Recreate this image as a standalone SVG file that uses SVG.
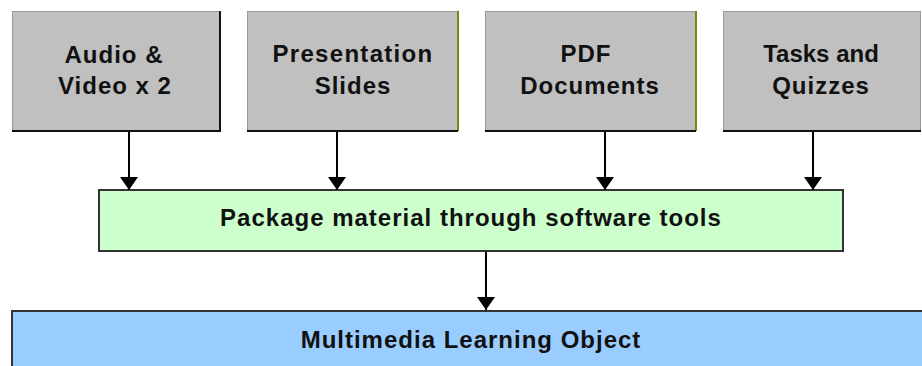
<svg xmlns="http://www.w3.org/2000/svg" width="922" height="366" viewBox="0 0 922 366">
<style>
.src{fill:#c0c0c0;stroke:#9a9a9a;stroke-width:1}
.sh{stroke:#111;stroke-width:2;fill:none}
.shg{stroke:#6b8f00;stroke-width:2;fill:none}
.t{font-family:"Liberation Sans",Arial,sans-serif;font-weight:bold;font-size:24px;fill:#111;text-anchor:middle;letter-spacing:1px}
.pkg{fill:#ccffcc;stroke:#333;stroke-width:2}
.mlo{fill:#99ccff;stroke:#333;stroke-width:2}
.c{stroke:#000;stroke-width:2;fill:none}
</style>
<defs>
<marker id="ah" viewBox="0 0 13 18" refX="13" refY="9" markerWidth="13" markerHeight="18" markerUnits="userSpaceOnUse" orient="auto">
<path d="M0,0 L13,9 L0,18 z" fill="#000"/>
</marker>
</defs>
<rect width="922" height="366" fill="#fff"/>
<g id="n1">
<rect class="src" x="12.5" y="11.5" width="207" height="119"/>
<path class="sh" d="M220,11 V131 H12"/>
<text class="t" x="114" y="63">Audio &amp;</text>
<text class="t" x="115" y="94">Video x 2</text>
</g>
<g id="n2">
<rect class="src" x="247.5" y="11.5" width="210" height="119"/>
<path class="shg" d="M458,11 V131"/>
<path class="sh" d="M458,131 H247"/>
<text class="t" x="353" y="62" style="letter-spacing:1.3px">Presentation</text>
<text class="t" x="353" y="94">Slides</text>
</g>
<g id="n3">
<rect class="src" x="485.5" y="11.5" width="210" height="119"/>
<path class="shg" d="M696,11 V131"/>
<path class="sh" d="M696,131 H485"/>
<text class="t" x="586" y="62">PDF</text>
<text class="t" x="590" y="94">Documents</text>
</g>
<g id="n4">
<rect class="src" x="723.5" y="11.5" width="197" height="119"/>
<path class="sh" d="M921,131 H723"/>
<text class="t" x="821" y="62" style="letter-spacing:0">Tasks and</text>
<text class="t" x="821" y="94">Quizzes</text>
</g>
<g id="n5">
<rect class="pkg" x="99" y="190" width="744" height="61"/>
<text class="t" x="471" y="226">Package material through software tools</text>
</g>
<g id="n6">
<rect class="mlo" x="12" y="311" width="912" height="60"/>
<text class="t" x="471" y="348">Multimedia Learning Object</text>
</g>
<g id="connectors">
<line class="c" x1="129" y1="132" x2="129" y2="190" marker-end="url(#ah)"/>
<line class="c" x1="337" y1="132" x2="337" y2="190" marker-end="url(#ah)"/>
<line class="c" x1="605" y1="132" x2="605" y2="190" marker-end="url(#ah)"/>
<line class="c" x1="813" y1="132" x2="813" y2="190" marker-end="url(#ah)"/>
<line class="c" x1="486" y1="252" x2="486" y2="310" marker-end="url(#ah)"/>
</g>
</svg>
